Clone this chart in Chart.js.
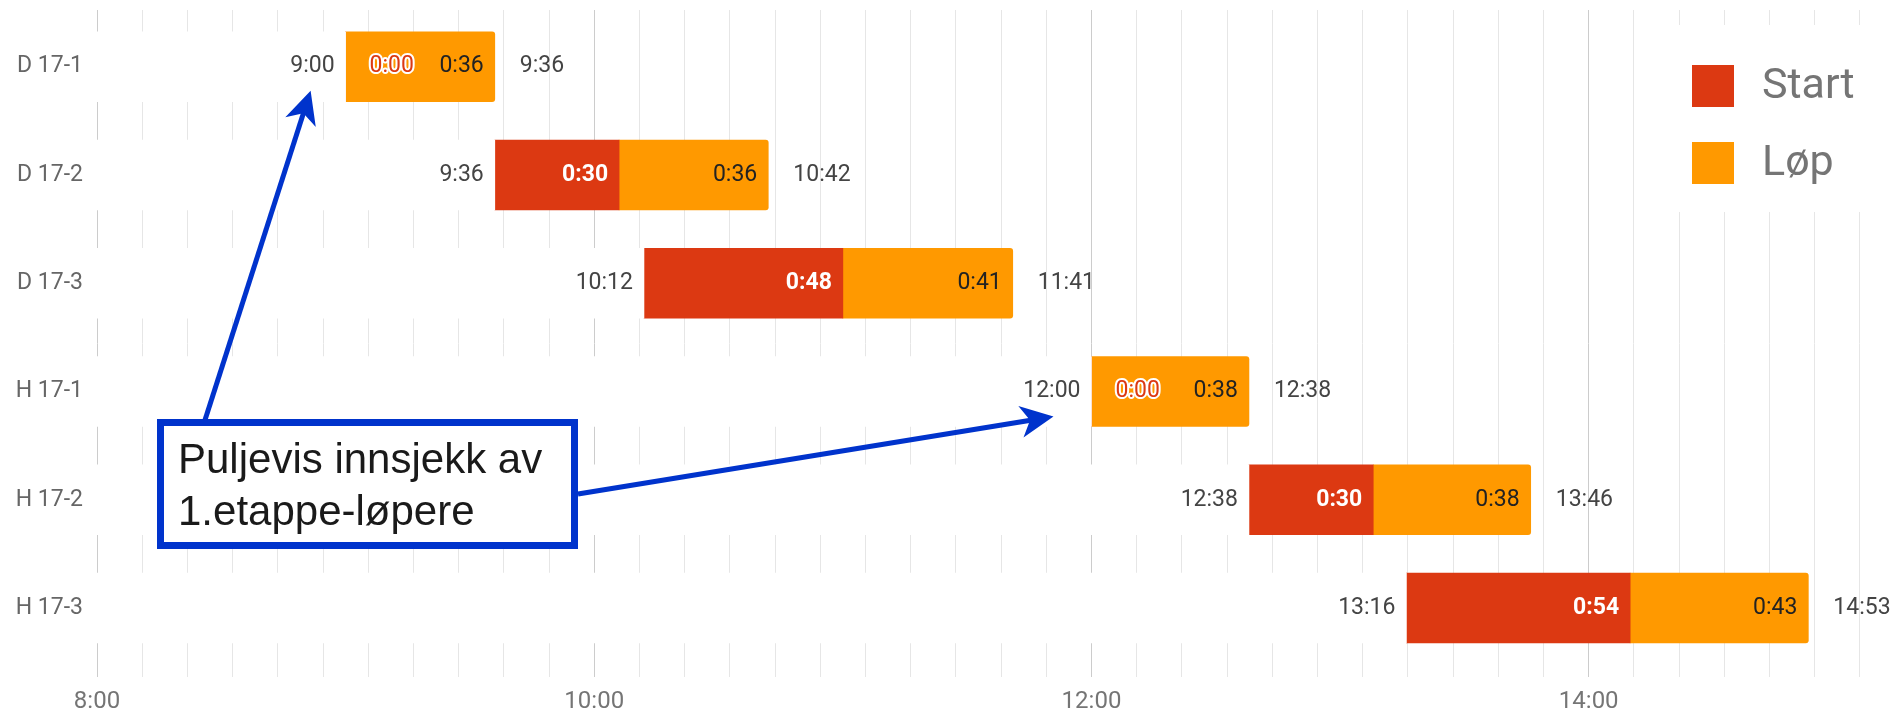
<!DOCTYPE html>
<html>
<head>
<meta charset="utf-8">
<script src="https://cdn.jsdelivr.net/npm/chart.js@4.4.1/dist/chart.umd.min.js"></script>
<style>
  html, body { margin: 0; padding: 0; background: #fff; }
  #wrap { width: 1895px; height: 715px; }
</style>
</head>
<body>
<div id="wrap"><canvas id="chart"></canvas></div>
<script>
// pools, start time, minutes spent on "Start" and on "Løp"
const categories = ['D 17-1', 'D 17-2', 'D 17-3', 'H 17-1', 'H 17-2', 'H 17-3'];
const startTimes = ['9:00', '9:36', '10:12', '12:00', '12:38', '13:16'];
const startMinutes = [0, 30, 48, 0, 30, 54];
const lopMinutes = [36, 36, 41, 38, 38, 43];
const axisLabels = ['8:00', '10:00', '12:00', '14:00'];
const minorPerMajor = 10;
const noteLines = ['Puljevis innsjekk av', '1.etappe-løpere'];

const axisFrom = 8 * 60;
const axisTo = 911.5;

function toMin(s) {
  const p = s.split(':');
  return Number(p[0]) * 60 + Number(p[1]);
}
function fmt(m) {
  return Math.floor(m / 60) + ':' + String(m % 60).padStart(2, '0');
}

const t0 = startTimes.map(toMin);
const t1 = t0.map((t, i) => t + startMinutes[i]);
const t2 = t1.map((t, i) => t + lopMinutes[i]);

const blankData = categories.map((c, i) => ({ x: [axisFrom, t0[i]], y: i }));
const startData = categories.map((c, i) => ({ x: [t0[i], t1[i]], y: i }));
const lopData = categories.map((c, i) => ({ x: [t1[i], t2[i]], y: i }));

// time labels next to / inside the bars
const barLabels = {
  id: 'barLabels',
  afterDatasetsDraw(chart) {
    const ctx = chart.ctx;
    const blank = chart.getDatasetMeta(0).data;
    const start = chart.getDatasetMeta(1).data;
    const lop = chart.getDatasetMeta(2).data;
    ctx.save();
    ctx.textBaseline = 'middle';
    categories.forEach((c, i) => {
      const y = blank[i].y;
      ctx.font = '23px Roboto';
      ctx.textAlign = 'right';
      ctx.fillStyle = '#444';
      ctx.fillText(startTimes[i], blank[i].x - 11, y);

      if (startMinutes[i] > 0) {
        ctx.font = 'bold 23px Roboto';
        ctx.fillStyle = '#fff';
        ctx.fillText(fmt(startMinutes[i]), start[i].x - 11, y);
      } else {
        ctx.font = '23px Roboto';
        ctx.textAlign = 'left';
        ctx.lineJoin = 'round';
        ctx.lineWidth = 4;
        ctx.strokeStyle = '#fff';
        ctx.strokeText(fmt(startMinutes[i]), start[i].x + 24, y);
        ctx.fillStyle = '#dc3912';
        ctx.fillText(fmt(startMinutes[i]), start[i].x + 24, y);
      }

      ctx.font = '23px Roboto';
      ctx.textAlign = 'right';
      ctx.fillStyle = '#222';
      ctx.fillText(fmt(lopMinutes[i]), lop[i].x - 11, y);

      ctx.textAlign = 'left';
      ctx.fillStyle = '#444';
      ctx.fillText(fmt(t2[i]), lop[i].x + 25, y);
    });
    ctx.restore();
  }
};

// legend box top right, over the grid
const sideLegend = {
  id: 'sideLegend',
  afterDraw(chart) {
    const ctx = chart.ctx;
    ctx.save();
    ctx.fillStyle = '#fff';
    ctx.fillRect(1678, 25, 217, 187);
    ctx.font = '43px Roboto';
    ctx.textBaseline = 'middle';
    ctx.textAlign = 'left';
    [1, 2].forEach((d, k) => {
      const ds = chart.data.datasets[d];
      const top = 65 + k * 77;
      ctx.fillStyle = ds.backgroundColor;
      ctx.fillRect(1692, top, 42, 42);
      ctx.fillStyle = '#757575';
      ctx.fillText(ds.label, 1762, top + 22);
    });
    ctx.restore();
  }
};

function arrow(ctx, x0, y0, x1, y1) {
  const dx = x1 - x0, dy = y1 - y0;
  const len = Math.hypot(dx, dy);
  const ux = dx / len, uy = dy / len;
  const L = 33, W = 16;
  ctx.beginPath();
  ctx.moveTo(x0, y0);
  ctx.lineTo(x1 - ux * L * 0.7, y1 - uy * L * 0.7);
  ctx.stroke();
  ctx.beginPath();
  ctx.moveTo(x1, y1);
  ctx.lineTo(x1 - ux * L - uy * W, y1 - uy * L + ux * W);
  ctx.lineTo(x1 - ux * L * 0.72, y1 - uy * L * 0.72);
  ctx.lineTo(x1 - ux * L + uy * W, y1 - uy * L - ux * W);
  ctx.closePath();
  ctx.fill();
}

// callout pointing at the two pools without a start phase
const callout = {
  id: 'callout',
  afterDraw(chart) {
    const ctx = chart.ctx;
    const xs = chart.scales.x, ys = chart.scales.y;
    ctx.save();
    ctx.fillStyle = '#fff';
    ctx.fillRect(157, 419, 421, 130);
    ctx.strokeStyle = '#0033cc';
    ctx.lineWidth = 7;
    ctx.strokeRect(160.5, 422.5, 414, 123);

    ctx.fillStyle = '#0033cc';
    ctx.lineWidth = 5;
    arrow(ctx, 205, 420, xs.getPixelForValue(t0[0]) - 35, ys.getPixelForValue(0) + 24);
    arrow(ctx, 578, 494, xs.getPixelForValue(t0[3]) - 38, ys.getPixelForValue(3) + 25);

    ctx.fillStyle = '#1a1a1a';
    ctx.font = '42px "Liberation Sans"';
    ctx.textAlign = 'left';
    ctx.textBaseline = 'alphabetic';
    ctx.fillText(noteLines[0], 178, 473);
    ctx.fillText(noteLines[1], 178, 525);
    ctx.restore();
  }
};

const canvas = document.getElementById('chart');
const ctx = canvas.getContext('2d');

var myChart = new Chart(ctx, {
  type: 'bar',
  data: {
    datasets: [{
      label: '',
      data: blankData,
      backgroundColor: '#ffffff'
    }, {
      label: 'Start',
      data: startData,
      backgroundColor: '#dc3912'
    }, {
      label: 'Løp',
      data: lopData,
      backgroundColor: '#ff9900',
      borderSkipped: false,
      borderRadius: { topLeft: 0, bottomLeft: 0, topRight: 3, bottomRight: 3 }
    }]
  },
  options: {
    indexAxis: 'y',
    responsive: true,
    maintainAspectRatio: false,
    animation: false,
    events: [],
    devicePixelRatio: 1,
    layout: { padding: { top: 10, right: 10, left: 0, bottom: 0 } },
    datasets: {
      bar: { grouped: false, barThickness: 70 }
    },
    plugins: {
      legend: { display: false },
      tooltip: { enabled: false }
    },
    scales: {
      x: {
        type: 'linear',
        position: 'bottom',
        min: axisFrom,
        max: axisTo,
        offset: false,
        border: { display: false },
        grid: {
          drawTicks: false,
          color: c => (c.index % (minorPerMajor + 1) === 0 ? '#cccccc' : '#e6e6e6')
        },
        afterBuildTicks: s => {
          const step = 120 / (minorPerMajor + 1);
          const ticks = [];
          for (let i = 0; axisFrom + i * step <= axisTo; i++) ticks.push({ value: axisFrom + i * step });
          s.ticks = ticks;
        },
        afterFit: s => {
          s.height = 38;
          s.paddingLeft = 0;
          s.paddingRight = 0;
        },
        ticks: {
          autoSkip: false,
          maxRotation: 0,
          padding: 11,
          color: '#757575',
          font: { family: 'Roboto', size: 24 },
          callback: (v, i) => (i % (minorPerMajor + 1) === 0 ? (axisLabels[i / (minorPerMajor + 1)] || '') : '')
        }
      },
      y: {
        type: 'linear',
        reverse: true,
        offset: false,
        min: -0.524,
        max: categories.length - 1 + 0.637,
        border: { display: false },
        grid: { display: false, drawTicks: false },
        afterBuildTicks: s => { s.ticks = categories.map((c, i) => ({ value: i })); },
        afterFit: s => {
          s.width = 97;
          s.paddingTop = 0;
          s.paddingBottom = 0;
        },
        ticks: {
          autoSkip: false,
          padding: 14,
          color: '#666',
          font: { family: 'Roboto', size: 23 },
          callback: v => categories[v]
        }
      }
    }
  },
  plugins: [barLabels, sideLegend, callout]
});
</script>
</body>
</html>
